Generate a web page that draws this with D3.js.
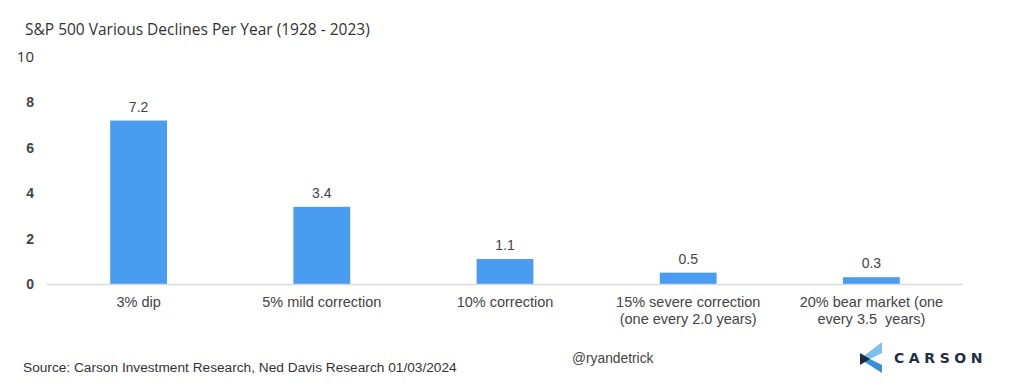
<!DOCTYPE html>
<html><head><meta charset="utf-8">
<script src="https://cdn.jsdelivr.net/npm/d3@7"></script>
<style>body{margin:0;background:#fff}svg{display:block}</style>
</head><body><svg id="c" width="1024" height="391"></svg>
<script>
const categories = ["3% dip","5% mild correction","10% correction","15% severe correction\n(one every 2.0 years)","20% bear market (one\nevery 3.5  years)"];
const values = [7.2, 3.4, 1.1, 0.5, 0.3];
const valueLabels = ["7.2","3.4","1.1","0.5","0.3"];
const yTicks = [0,2,4,6,8,10];

const svg = d3.select("#c");
const x = d3.scaleBand().domain(categories).range([47, 963]).paddingInner(0.69).paddingOuter(0.345);
const y = d3.scaleLinear().domain([0,10]).range([284, 57]);

svg.append("text").attr("x",25).attr("y",35).attr("font-family","'Open Sans', sans-serif")
  .attr("font-size",15.5).attr("fill","#333").text("S&P 500 Various Declines Per Year (1928 - 2023)");

// y axis labels
const ya = svg.append("g").attr("transform","translate(34,0)").call(d3.axisLeft(y).tickValues(yTicks).tickSize(0).tickPadding(0));
ya.select(".domain").remove();
ya.selectAll("text").attr("font-family","Liberation Sans, Arial, sans-serif").attr("font-size",14)
  .attr("fill","#444").attr("font-weight","bold");
ya.selectAll(".tick").filter(d=>d===10).select("text").attr("font-family","'Open Sans', sans-serif").attr("font-weight","normal").attr("fill","#333").attr("font-size",15);

// bars
svg.selectAll("rect.bar").data(values).join("rect").attr("class","bar")
  .attr("x",(d,i)=>x(categories[i])).attr("width",x.bandwidth())
  .attr("y",d=>y(d)).attr("height",d=>y(0)-y(d)).attr("fill","#4a9cf0");

// baseline
svg.append("line").attr("x1",47).attr("x2",963).attr("y1",y(0)+0.5).attr("y2",y(0)+0.5).attr("stroke","#d9d9d9").attr("stroke-width",1.5);

// value labels
svg.selectAll("text.vl").data(values).join("text").attr("class","vl")
  .attr("x",(d,i)=>x(categories[i])+x.bandwidth()/2).attr("y",d=>y(d)-9)
  .attr("text-anchor","middle").attr("font-family","Liberation Sans, Arial, sans-serif")
  .attr("font-size",14).attr("fill","#444").text((d,i)=>valueLabels[i]);

// x labels
const xl = svg.selectAll("text.xl").data(categories).join("text").attr("class","xl")
  .attr("x",d=>x(d)+x.bandwidth()/2).attr("y",307).attr("text-anchor","middle")
  .attr("font-family","Liberation Sans, Arial, sans-serif").attr("font-size",14.5).attr("fill","#444")
  .style("white-space","pre");
xl.each(function(d){
  const t=d3.select(this);
  d.split("\n").forEach((line,i)=>{
    t.append("tspan").attr("x",x(d)+x.bandwidth()/2).attr("dy",i?17:0).style("white-space","pre").text(line);
  });
});

svg.append("text").attr("x",23).attr("y",372).attr("font-family","Liberation Sans, Arial, sans-serif")
  .attr("font-size",13.7).attr("fill","#333").text("Source: Carson Investment Research, Ned Davis Research 01/03/2024");
svg.append("text").attr("x",572).attr("y",363).attr("font-family","Liberation Sans, Arial, sans-serif")
  .attr("font-size",13.8).attr("fill","#444").text("@ryandetrick");

// Carson logo
const lg = svg.append("g").attr("transform","translate(860,342)");
lg.append("polygon").attr("points","22,0 22,11 10,17 0,17").attr("fill","#7cc0f0");
lg.append("polygon").attr("points","0,17 10,17 22,23 22,31").attr("fill","#3a8fdc");
lg.append("polygon").attr("points","0,17 10,17 0,23").attr("fill","#1c2b3f");
lg.append("polygon").attr("points","0,11 10,17 0,17").attr("fill","#1c2b3f");
svg.append("text").attr("x",894).attr("y",363).attr("font-family","'DejaVu Sans', sans-serif")
  .attr("font-weight","bold").attr("font-size",14).attr("letter-spacing",4.6).attr("fill","#1f2f44").text("CARSON");
</script></body></html>
